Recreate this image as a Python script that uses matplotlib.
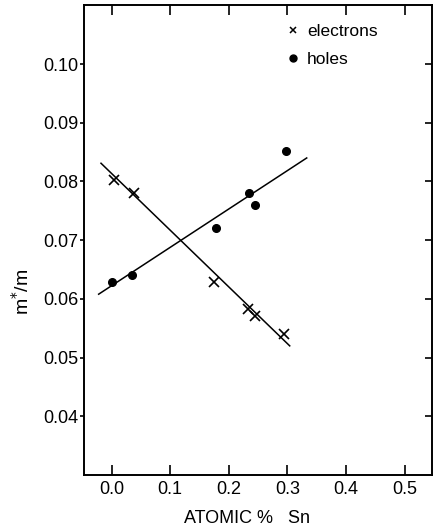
import matplotlib
matplotlib.use("Agg")
import matplotlib.pyplot as plt
from matplotlib.lines import Line2D
from matplotlib.ticker import FixedLocator, FormatStrFormatter

plt.rcParams['font.family'] = ['Liberation Sans', 'DejaVu Sans']

# Data
electron_x = [0.005, 0.039, 0.175, 0.232, 0.244, 0.294]
electron_y = [0.0802, 0.0780, 0.0628, 0.0582, 0.0571, 0.0540]
hole_x = [0.001, 0.035, 0.179, 0.235, 0.245, 0.297]
hole_y = [0.0629, 0.0641, 0.0720, 0.0781, 0.0760, 0.0852]

# Fitted straight lines (endpoints)
electron_fit_x = [-0.018, 0.304]
electron_fit_y = [0.0831, 0.0520]
hole_fit_x = [-0.022, 0.333]
hole_fit_y = [0.0608, 0.0840]

x_ticks = [0.0, 0.1, 0.2, 0.3, 0.4, 0.5]
y_ticks = [0.04, 0.05, 0.06, 0.07, 0.08, 0.09, 0.10]

fig = plt.figure(figsize=(4.33, 5.29), dpi=100)
ax = fig.add_axes([0.194, 0.102, 0.804, 0.888])

ax.plot(electron_fit_x, electron_fit_y, color='black', lw=1.1)
ax.plot(hole_fit_x, hole_fit_y, color='black', lw=1.1)
ax.plot(electron_x, electron_y, ls='none', marker='x', ms=7, mew=1.2, color='black')
ax.plot(hole_x, hole_y, ls='none', marker='o', ms=5.5, color='black')

ax.set_xlim(-0.047, 0.547)
ax.set_ylim(0.030, 0.110)
ax.xaxis.set_major_locator(FixedLocator(x_ticks))
ax.yaxis.set_major_locator(FixedLocator(y_ticks))
ax.xaxis.set_major_formatter(FormatStrFormatter('%.1f'))
ax.yaxis.set_major_formatter(FormatStrFormatter('%.2f'))

for s in ax.spines.values():
    s.set_linewidth(1.4)

ax.tick_params(axis='x', which='both', direction='in', top=True, bottom=True,
               length=7, width=1.2, labelsize=13, pad=4)
ax.tick_params(axis='y', which='both', direction='out', left=True,
               length=3, width=1.2, labelsize=13, pad=1)
ax.tick_params(axis='y', which='both', right=True)
# right ticks inward
for t in ax.yaxis.get_major_ticks():
    t.tick2line.set_marker(matplotlib.lines.TICKLEFT)
    t.tick2line.set_markersize(5)

ax.set_xlabel('ATOMIC %   Sn', fontsize=13)
ax.xaxis.set_label_coords(0.468, -0.074)
ax.set_ylabel('m$^{*}$/m', fontsize=14)
ax.yaxis.set_label_coords(-0.147, 0.39)

handles = [Line2D([], [], ls='none', marker='x', ms=5, mew=1.1, color='black'),
           Line2D([], [], ls='none', marker='o', ms=5, color='black')]
ax.legend(handles, ['electrons', 'holes'], loc='upper left',
          bbox_to_anchor=(0.566, 0.975), frameon=False, fontsize=12.5,
          handlelength=0.6, handletextpad=0.49, labelspacing=0.74,
          borderaxespad=0.0)

fig.savefig('out.png', dpi=100)
